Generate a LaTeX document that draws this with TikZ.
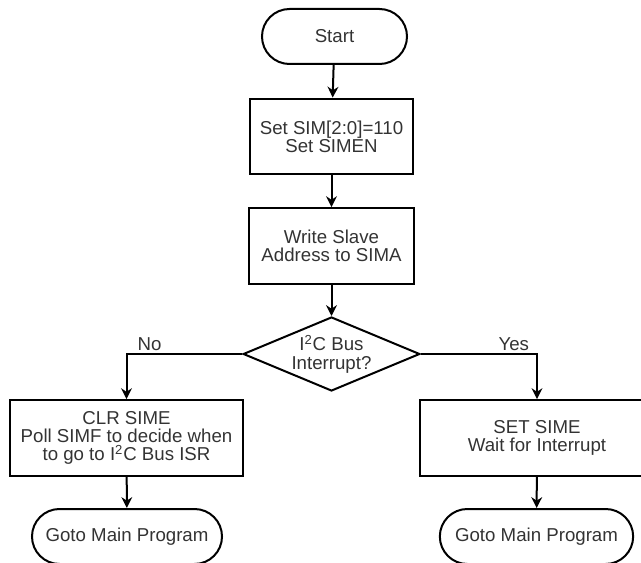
\documentclass[tikz,border=0pt]{standalone}
\usepackage{fontspec}
\setmainfont{Liberation Sans}
\usetikzlibrary{arrows.meta, shapes.geometric, shapes.misc}
\definecolor{textGray}{HTML}{333333}

\begin{document}
\begin{tikzpicture}[
    x=0.6pt, y=-0.6pt,
    every node/.style={font=\fontsize{11.2pt}{11pt}\selectfont, text=textGray},
    term/.style={rounded rectangle, draw=black, line width=1.2pt,
                 minimum width=#1, minimum height=33pt, inner sep=0pt},
    proc/.style={rectangle, draw=black, line width=1.2pt, align=center,
                 minimum width=#1, minimum height=45.5pt, inner sep=0pt},
    decide/.style={diamond, draw=black, line width=1.2pt, align=center,
                   shape aspect=2.4, minimum width=106pt, minimum height=44.4pt,
                   inner sep=0pt},
    arr/.style={draw=black, line width=1.2pt, -{Stealth[length=6.5pt, width=6.5pt]}},
  ]
    \clip (0,0) rectangle (641,563);

    \node[term=87pt] (start) at (334.5, 36.5) {Start};
    \node[proc=98pt] (setsim) at (331.5, 136.5) {Set SIM[2:0]=110\\Set SIMEN};
    \node[proc=99pt] (wrsima) at (331.5, 246) {Write Slave\\Address to SIMA};
    \node[decide] (busint) at (331.5, 354) {I\textsuperscript{2}C Bus\\Interrupt?};

    \node[proc=140pt] (clrsime) at (126.5, 438)
      {CLR SIME\\Poll SIMF to decide when\\to go to I\textsuperscript{2}C Bus ISR};
    \node[proc=140pt] (setsime) at (537, 438) {SET SIME\\Wait for Interrupt};

    \node[term=114pt] (mainL) at (127, 536.5) {Goto Main Program};
    \node[term=116pt] (mainR) at (536.5, 536.5) {Goto Main Program};

    \draw[arr] (start) -- (setsim);
    \draw[arr] (setsim) -- (wrsima);
    \draw[arr] (wrsima) -- (busint);
    \draw[arr] (busint.west) -| node[pos=0.4, above, inner sep=1.5pt] {No} (clrsime.north);
    \draw[arr] (busint.east) -| node[pos=0.4, above, inner sep=1.5pt] {Yes} (setsime.north);
    \draw[arr] (clrsime) -- (mainL);
    \draw[arr] (setsime) -- (mainR);
  \end{tikzpicture}
\end{document}
